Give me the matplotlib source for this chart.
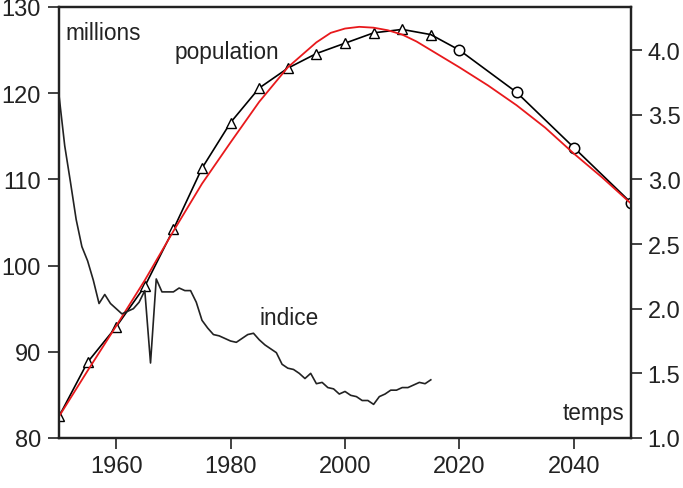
import matplotlib
matplotlib.use("Agg")
import matplotlib.pyplot as plt

plt.rcParams['font.family'] = ['Liberation Sans', 'DejaVu Sans']

# Population (millions), observed (triangles)
pop_years = [1950, 1955, 1960, 1965, 1970, 1975, 1980, 1985, 1990, 1995, 2000, 2005, 2010, 2015]
pop_values = [82.5, 88.8, 92.9, 97.6, 104.2, 111.3, 116.6, 120.6, 122.9, 124.6, 125.8, 127.0, 127.4, 126.8]

# Population projections (circles)
proj_years = [2015, 2020, 2030, 2040, 2050]
proj_values = [126.8, 125.0, 120.1, 113.7, 107.3]

# Fitted curve (red)
fit_years = [1950, 1955, 1960, 1965, 1970, 1975, 1980, 1985, 1990, 1995, 1997.5, 2000, 2002.5,
             2005, 2007.5, 2010, 2012.5, 2015, 2020, 2025, 2030, 2035, 2040, 2045, 2050]
fit_values = [82.5, 87.8, 93.0, 98.3, 104.0, 109.5, 114.3, 119.0, 123.0, 125.9, 127.0, 127.5, 127.7,
              127.6, 127.3, 126.8, 126.0, 125.0, 123.0, 120.9, 118.6, 116.0, 113.0, 110.2, 107.2]

# Fertility index (right axis)
fert_years = list(range(1950, 2016))
fert_values = [3.65, 3.26, 2.98, 2.69, 2.48, 2.37, 2.22, 2.04, 2.11, 2.04,
               2.00, 1.96, 1.98, 2.00, 2.05, 2.14, 1.58, 2.23, 2.13, 2.13,
               2.13, 2.16, 2.14, 2.14, 2.05, 1.91, 1.85, 1.80, 1.79, 1.77,
               1.75, 1.74, 1.77, 1.80, 1.81, 1.76, 1.72, 1.69, 1.66, 1.57,
               1.54, 1.53, 1.50, 1.46, 1.50, 1.42, 1.43, 1.39, 1.38, 1.34,
               1.36, 1.33, 1.32, 1.29, 1.29, 1.26, 1.32, 1.34, 1.37, 1.37,
               1.39, 1.39, 1.41, 1.43, 1.42, 1.45]

left_ticks = [80, 90, 100, 110, 120, 130]
right_ticks = [1.0, 1.5, 2.0, 2.5, 3.0, 3.5, 4.0]
x_ticks = [1960, 1980, 2000, 2020, 2040]

fig = plt.figure(figsize=(6.83, 4.89), dpi=100)
ax = fig.add_axes([59/683, 50/489, (631-59)/683, (439-8)/489])
ax2 = ax.twinx()

fs = 16.3
tfs = 17
ax.plot(pop_years, pop_values, color='black', lw=1.2, marker='^', ms=6.5,
        mfc='white', mec='black', mew=1.0, zorder=3)
ax.plot(proj_years, proj_values, color='black', lw=1.2, zorder=3)
ax.plot(proj_years[1:], proj_values[1:], ls='none', marker='o', ms=7.5,
        mfc='white', mec='black', mew=1.1, zorder=4)
ax.plot(fit_years, fit_values, color='#e8191c', lw=1.3, zorder=5)

ax2.plot(fert_years, fert_values, color='#222222', lw=1.2)

ax.set_xlim(1950, 2050)
ax.set_ylim(80, 130)
ax2.set_ylim(1.0, 1.0 + 50/15)

ax.set_xticks(x_ticks)
ax.set_yticks(left_ticks)
ax2.set_yticks(right_ticks)
ax2.set_yticklabels([f"{v:.1f}" for v in right_ticks])

for a in (ax, ax2):
    for s in a.spines.values():
        s.set_linewidth(1.6)
        s.set_color('#222222')
    a.tick_params(labelsize=tfs, length=8, width=1.2, colors='#222222', pad=4)
ax.tick_params(axis='y', pad=5)

ax.text(1951.2, 127.0, 'millions', fontsize=fs, color='#222222', ha='left', va='center')
ax.text(1979.3, 124.8, 'population', fontsize=fs, color='#222222', ha='center', va='center')
ax.text(1990.2, 94.0, 'indice', fontsize=fs, color='#222222', ha='center', va='center')
ax.text(2048.9, 83.0, 'temps', fontsize=fs, color='#222222', ha='right', va='center')

fig.savefig('out.png', dpi=100)
